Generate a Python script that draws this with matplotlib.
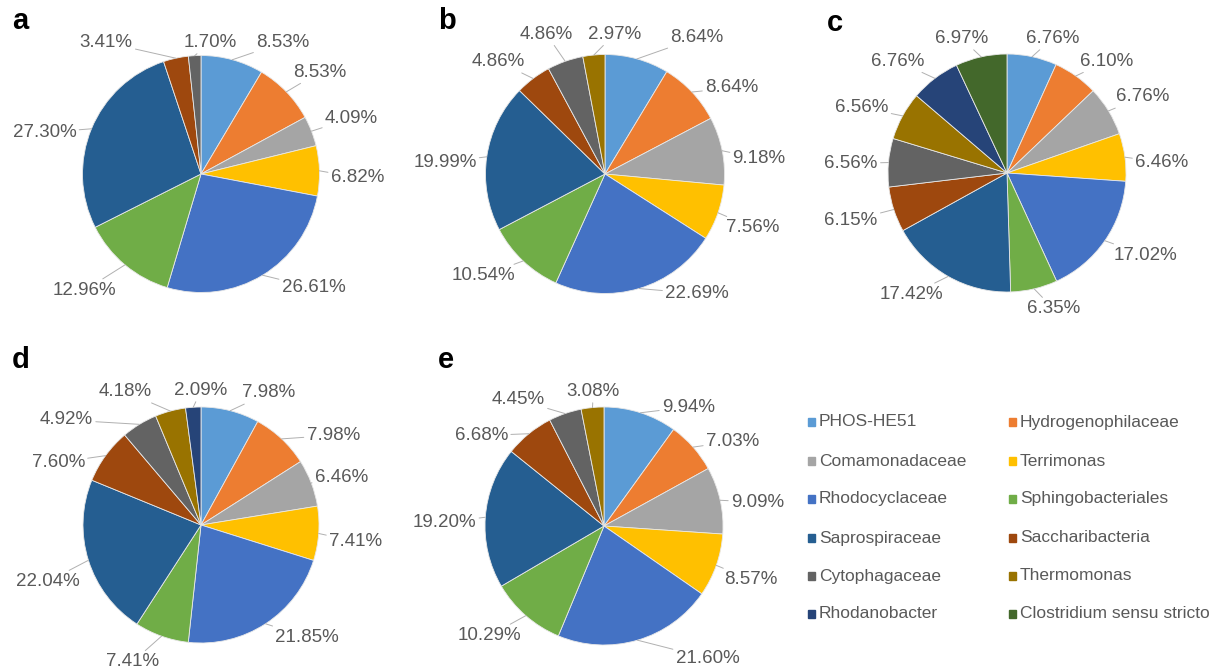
import numpy as np
import matplotlib
matplotlib.use("Agg")
import matplotlib.pyplot as plt
from matplotlib.patches import Rectangle

plt.rcParams['font.family'] = ['Liberation Sans', 'DejaVu Sans']

taxa = ["PHOS-HE51", "Hydrogenophilaceae", "Comamonadaceae", "Terrimonas",
        "Rhodocyclaceae", "Sphingobacteriales", "Saprospiraceae",
        "Saccharibacteria", "Cytophagaceae", "Thermomonas", "Rhodanobacter",
        "Clostridium sensu stricto"]
colors = ["#5B9BD5", "#ED7D31", "#A5A5A5", "#FFC000", "#4472C4", "#70AD47",
          "#255E91", "#9E480E", "#636363", "#997300", "#264478", "#43682B"]

# relative abundance (%) per sample, in taxa order; 0 = not among the top taxa
pct_a = [8.53, 8.53, 4.09, 6.82, 26.61, 12.96, 27.30, 3.41, 1.70, 0, 0, 0]
pct_b = [8.64, 8.64, 9.18, 7.56, 22.69, 10.54, 19.99, 4.86, 4.86, 2.97, 0, 0]
pct_c = [6.76, 6.10, 6.76, 6.46, 17.02, 6.35, 17.42, 6.15, 6.56, 6.56, 6.76, 6.97]
pct_d = [7.98, 7.98, 6.46, 7.41, 21.85, 7.41, 22.04, 7.60, 4.92, 4.18, 2.09, 0]
pct_e = [9.94, 7.03, 9.09, 8.57, 21.60, 10.29, 19.20, 6.68, 4.45, 3.08, 0, 0]

panels = ["a", "b", "c", "d", "e"]
samples = [pct_a, pct_b, pct_c, pct_d, pct_e]

# layout: pie centre / radius in pixels, label centres in radius units
W, H = 1220, 668
pie_geom = {"a": (201, 174, 118.5), "b": (605, 174, 119.5), "c": (1007, 173, 119),
            "d": (201, 525, 118), "e": (604, 526, 119)}
letter_pos = {"a": (20, 21), "b": (447, 21), "c": (835, 23), "d": (21, 360), "e": (446, 360)}
label_pos = {
    "a": [(0.69, 1.11), (1.00, 0.86), (1.27, 0.47), (1.32, -0.03), (0.95, -0.96),
          (-0.98, -0.98), (-1.32, 0.35), (-0.80, 1.11), (0.08, 1.11)],
    "b": [(0.77, 1.14), (1.06, 0.72), (1.29, 0.13), (1.24, -0.45), (0.77, -1.0),
          (-1.02, -0.85), (-1.34, 0.10), (-0.89, 0.94), (-0.49, 1.17), (0.08, 1.17)],
    "c": [(0.38, 1.13), (0.84, 0.94), (1.14, 0.64), (1.30, 0.09), (1.16, -0.69),
          (0.39, -1.14), (-0.80, -1.02), (-1.31, -0.40), (-1.31, 0.08), (-1.22, 0.55),
          (-0.92, 0.94), (-0.38, 1.13)],
    "d": [(0.57, 1.12), (1.12, 0.76), (1.19, 0.40), (1.31, -0.14), (0.90, -0.95),
          (-0.58, -1.16), (-1.30, -0.48), (-1.21, 0.53), (-1.14, 0.89), (-0.64, 1.13),
          (0.0, 1.14)],
    "e": [(0.71, 1.0), (1.08, 0.71), (1.29, 0.20), (1.23, -0.45), (0.87, -1.11),
          (-0.96, -0.92), (-1.34, 0.03), (-1.03, 0.76), (-0.72, 1.06), (-0.09, 1.13)],
}

text_col = "#595959"
fig = plt.figure(figsize=(W / 100, H / 100), dpi=100)

half = 175
for name, pct in zip(panels, samples):
    cx, cy, r = pie_geom[name]
    ax = fig.add_axes([(cx - half) / W, (H - cy - half) / H, 2 * half / W, 2 * half / H])
    vals = [v for v in pct if v > 0]
    cols = [c for v, c in zip(pct, colors) if v > 0]
    wedges, _ = ax.pie(vals, colors=cols, startangle=90, counterclock=False,
                       radius=1, wedgeprops=dict(edgecolor="#e8e8e8", linewidth=0.6))
    for w, v, (lx, ly) in zip(wedges, vals, label_pos[name]):
        mid = np.deg2rad((w.theta1 + w.theta2) / 2)
        ax.annotate(f"{v:.2f}%", xy=(np.cos(mid), np.sin(mid)), xytext=(lx, ly),
                    ha="center", va="center", fontsize=13.5, color=text_col,
                    arrowprops=dict(arrowstyle="-", color="#b0b0b0", lw=0.7,
                                    shrinkA=0, shrinkB=0))
    ax.set_xlim(-half / r, half / r)
    ax.set_ylim(-half / r, half / r)
    ax.set_aspect("equal")
    ax.axis("off")
    lx, ly = letter_pos[name]
    fig.text(lx / W, 1 - ly / H, name, fontsize=21, fontweight="bold",
             ha="center", va="center", color="black")

# legend, two columns filled row by row
lg = fig.add_axes([0, 0, 1, 1], zorder=-1)
lg.set_xlim(0, W)
lg.set_ylim(H, 0)
lg.axis("off")
col_x = [808, 1009]
row_y = [422, 461, 499, 538, 576, 614]
for i, (name, c) in enumerate(zip(taxa, colors)):
    x = col_x[i % 2]
    y = row_y[i // 2]
    lg.add_patch(Rectangle((x, y - 4), 7, 8, color=c))
    lg.text(x + 11, y, name, fontsize=12.5, color=text_col, va="center", ha="left")

fig.savefig("out.png", dpi=100)
